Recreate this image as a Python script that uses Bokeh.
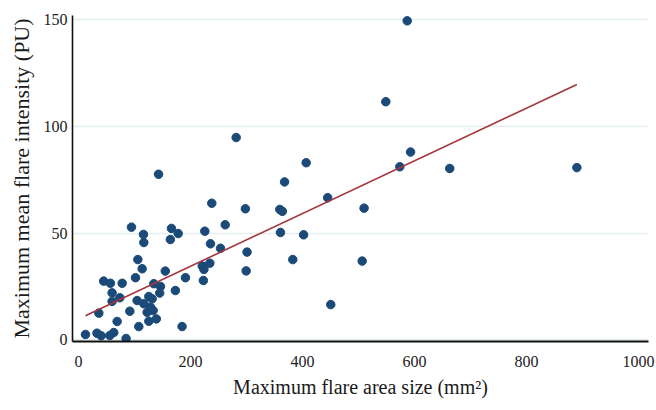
from bokeh.plotting import figure
from bokeh.models import Range1d, FixedTicker
from bokeh.embed import file_html
from bokeh.resources import INLINE

# ---- data ----
area_mm2 = [
    12.5, 33, 40.5, 56, 63, 85, 36.3, 69, 91.7, 107.7,
    45, 57, 78, 60, 73.8, 60, 101.8, 106, 113.7, 104.7,
    116.7, 125.6, 131.5, 128.6, 122.6, 133.3, 139, 125.6, 134.5, 146.4,
    145, 155, 173, 191, 185, 94.6, 116, 116.7, 143, 166,
    178, 164, 225.6, 238, 298, 262, 235.7, 253.6, 301, 221,
    234.5, 223, 299.4, 224, 281.6, 368, 445, 359.5, 364, 510,
    360.7, 402, 382.7, 506.6, 450.5, 406.6, 548.8, 587, 593, 573.8,
    663, 890,
]
intensity_pu = [
    2.5, 3.1, 1.9, 2.0, 3.4, 0.6, 12.5, 8.6, 13.4, 6.2,
    27.5, 26.5, 26.5, 22.0, 19.7, 18.0, 29.1, 37.6, 33.3, 18.4,
    16.9, 20.3, 19.2, 15.3, 12.9, 13.7, 9.8, 8.7, 26.3, 25.0,
    21.9, 32.2, 23.1, 29.1, 6.2, 52.8, 49.4, 45.6, 77.6, 52.2,
    49.8, 47.0, 50.9, 64.0, 61.4, 53.9, 45.0, 42.9, 41.1, 34.6,
    35.9, 27.8, 32.3, 33.0, 94.8, 74.0, 66.6, 61.1, 60.2, 61.7,
    50.3, 49.2, 37.6, 36.9, 16.5, 83.0, 111.6, 149.5, 88.0, 81.1,
    80.3, 80.7,
]
trend_x = [12.5, 890]
trend_y = [11.3, 119.7]

x_ticks = [0, 200, 400, 600, 800, 1000]
y_ticks = [0, 50, 100, 150]
x_title = "Maximum flare area size (mm\u00b2)"
y_title = "Maximum mean flare intensity (PU)"

SERIF = "Liberation Serif"

p = figure(
    width=656, height=410,
    output_backend="svg", toolbar_location=None,
    x_range=Range1d(-10.7, 1017.9), y_range=Range1d(-0.8, 152),
    min_border_left=72, min_border_right=8, min_border_top=15, min_border_bottom=69,
    background_fill_color="white", border_fill_color="white",
)
p.outline_line_color = None

p.xgrid.grid_line_color = None
p.ygrid.grid_line_color = "#E4EEEE"
p.ygrid.grid_line_width = 1.5
p.ygrid.ticker = FixedTicker(ticks=y_ticks)

p.xaxis.ticker = FixedTicker(ticks=x_ticks)
p.yaxis.ticker = FixedTicker(ticks=y_ticks)

for ax in (p.xaxis, p.yaxis):
    ax.major_tick_line_color = None
    ax.minor_tick_line_color = None
    ax.major_tick_out = 0
    ax.major_tick_in = 0
    ax.axis_line_color = "#111111"
    ax.major_label_text_font = SERIF
    ax.major_label_text_font_size = "16px"
    ax.major_label_text_font_style = "normal"
    ax.major_label_text_color = "#222222"
    ax.axis_label_text_font = SERIF
    ax.axis_label_text_font_style = "normal"
    ax.axis_label_text_color = "#1a1a1a"

p.xaxis.axis_line_width = 2.2
p.yaxis.axis_line_width = 1.6
p.xaxis.major_label_standoff = 14
p.yaxis.major_label_standoff = 5
p.xaxis.axis_label = x_title
p.yaxis.axis_label = y_title
p.xaxis.axis_label_text_font_size = "20px"
p.yaxis.axis_label_text_font_size = "22px"
p.xaxis.axis_label_standoff = 6
p.yaxis.axis_label_standoff = 7

p.scatter(area_mm2, intensity_pu, size=8.5, fill_color="#1B4A78", line_color="#1B4A78")
p.line(trend_x, trend_y, line_color="#A3363C", line_width=1.6)

open("out.html", "w").write(file_html(p, INLINE))
